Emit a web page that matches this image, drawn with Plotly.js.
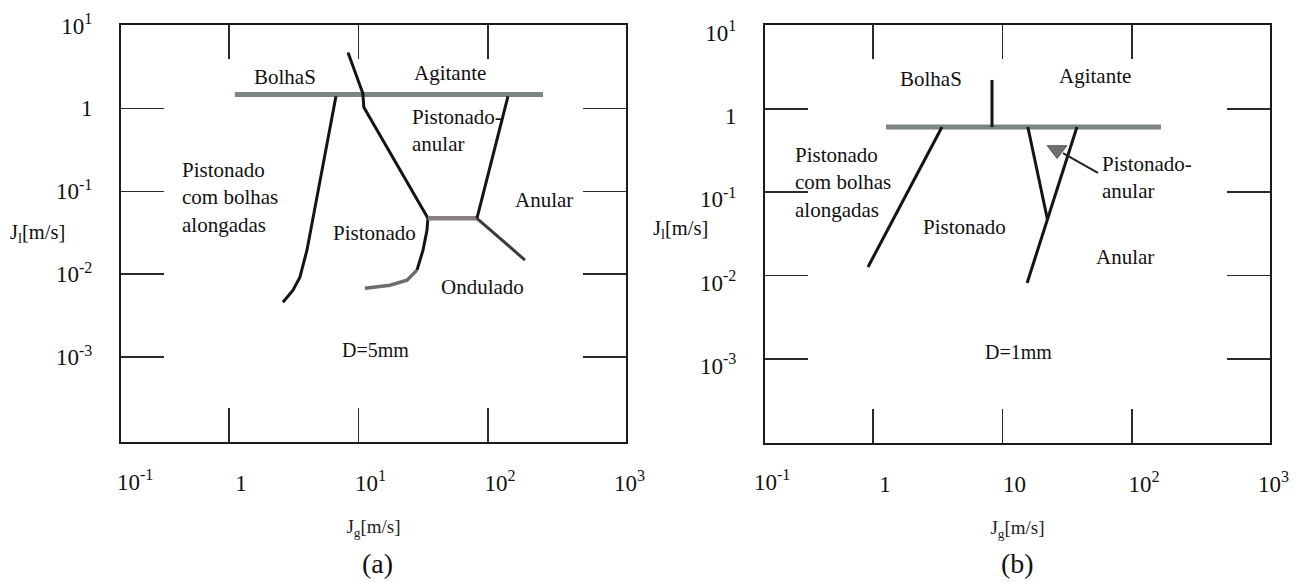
<!DOCTYPE html>
<html>
<head>
<meta charset="utf-8">
<script src="https://cdn.plot.ly/plotly-3.0.1.min.js"></script>
<style>
  html, body { margin: 0; padding: 0; background: #ffffff; }
  #chart { width: 1310px; height: 582px; }
</style>
</head>
<body>
<div id="chart"></div>
<script>
// Two-phase flow pattern maps: gas superficial velocity J_g vs liquid J_l

// ---- axis ticks and labels ----
const xTickVals = [0.1, 1, 10, 100, 1000];
const xTickTextA = ['10<sup>-1</sup>', '1', '10<sup>1</sup>', '10<sup>2</sup>', '10<sup>3</sup>'];
const xTickTextB = ['10<sup>-1</sup>', '1', '10', '10<sup>2</sup>', '10<sup>3</sup>'];
const xMarkVals = [1, 10, 100];
const yTickVals = [10, 1, 0.1, 0.01, 0.001];
const yTickText = ['10<sup>1</sup>', '1', '10<sup>-1</sup>', '10<sup>-2</sup>', '10<sup>-3</sup>'];

// ---- (a) D = 5 mm : transition boundaries ----
const aBubbleTopX = [1.11, 266];
const aBubbleTopY = [1.47, 1.47];
const aSlugBubblyX = [6.7, 4.87, 4.37, 4.00, 3.53, 3.12, 2.61];
const aSlugBubblyY = [1.40, 0.103, 0.0448, 0.0195, 0.0092, 0.0064, 0.0046];
const aSlugChurnX = [8.3, 10.8, 11.0, 34.4];
const aSlugChurnY = [4.73, 1.52, 1.03, 0.0473];
const aWavyUpperX = [34.4, 33.8, 31.5, 28.3];
const aWavyUpperY = [0.0473, 0.0339, 0.0195, 0.0112];
const aWavyLowerX = [28.3, 23.7, 17.5, 11.2];
const aWavyLowerY = [0.0112, 0.00847, 0.00737, 0.00678];
const aMidX = [34.4, 82.2];
const aMidY = [0.0473, 0.0473];
const aAnnularX = [142.7, 82.2];
const aAnnularY = [1.40, 0.0473];
const aWavyAnnularX = [82.2, 193];
const aWavyAnnularY = [0.0473, 0.0148];

// ---- (b) D = 1 mm : transition boundaries ----
const bBubbleTopX = [1.26, 167.5];
const bBubbleTopY = [0.608, 0.608];
const bStemX = [8.3, 8.3];
const bStemY = [2.23, 0.608];
const bSlugBubblyX = [3.41, 0.915];
const bSlugBubblyY = [0.608, 0.01268];
const bInnerX = [15.7, 22.3];
const bInnerY = [0.608, 0.0465];
const bOuterX = [37.6, 15.5];
const bOuterY = [0.608, 0.00815];
const bPointerX = [29.3, 54.6];
const bPointerY = [0.296, 0.1705];
const bMarkX = [26.4];
const bMarkY = [0.322];

const serif = 'Liberation Serif, Times New Roman, Times, serif';
const ink = '#141414';
const barGrey = '#7c8484';

function seg(x, y, xa, ya, color, width) {
  return { x: x, y: y, xaxis: xa, yaxis: ya, type: 'scatter', mode: 'lines',
           line: { color: color, width: width }, hoverinfo: 'skip', showlegend: false };
}

const traces = [
  seg(aBubbleTopX, aBubbleTopY, 'x', 'y', barGrey, 5),
  seg(aSlugBubblyX, aSlugBubblyY, 'x', 'y', ink, 3),
  seg(aSlugChurnX, aSlugChurnY, 'x', 'y', ink, 3),
  seg(aWavyUpperX, aWavyUpperY, 'x', 'y', ink, 3),
  seg(aWavyLowerX, aWavyLowerY, 'x', 'y', '#6f6a6c', 3.5),
  seg(aMidX, aMidY, 'x', 'y', '#8a7e80', 4.5),
  seg(aAnnularX, aAnnularY, 'x', 'y', ink, 3),
  seg(aWavyAnnularX, aWavyAnnularY, 'x', 'y', '#3c3c3c', 3),

  seg(bBubbleTopX, bBubbleTopY, 'x2', 'y2', barGrey, 5),
  seg(bStemX, bStemY, 'x2', 'y2', ink, 3),
  seg(bSlugBubblyX, bSlugBubblyY, 'x2', 'y2', ink, 3),
  seg(bInnerX, bInnerY, 'x2', 'y2', ink, 3),
  seg(bOuterX, bOuterY, 'x2', 'y2', ink, 3),
  seg(bPointerX, bPointerY, 'x2', 'y2', '#222222', 2),
  { x: bMarkX, y: bMarkY, xaxis: 'x2', yaxis: 'y2', type: 'scatter', mode: 'markers',
    marker: { symbol: 'triangle-down', size: 17, color: '#6e7070', line: { color: '#555', width: 1 } },
    hoverinfo: 'skip', showlegend: false }
];

function xAxis(domain, ticktext, anchor) {
  return {
    type: 'log', domain: domain, anchor: anchor, range: [-0.834, 3.066],
    tickmode: 'array', tickvals: xTickVals, ticktext: ticktext,
    ticks: '', showgrid: false, zeroline: false,
    showline: true, linecolor: '#1a1a1a', linewidth: 2, mirror: 'ticks',
    minor: { tickmode: 'array', tickvals: xMarkVals, ticks: 'inside', ticklen: 34,
             tickwidth: 1.6, tickcolor: '#2a2a2a', showgrid: false },
    tickfont: { family: serif, size: 23, color: '#111' },
    ticklabelshift: 12, ticklabelstandoff: 19,
    title: { text: 'J<sub>g</sub>[m/s]', font: { family: serif, size: 19, color: '#222' }, standoff: 25 },
    fixedrange: true
  };
}

function yAxis(domain, range, anchor, shift) {
  return {
    type: 'log', domain: domain, anchor: anchor, range: range,
    tickmode: 'array', tickvals: yTickVals, ticktext: yTickText,
    ticks: 'inside', ticklen: 43, tickwidth: 1.6, tickcolor: '#2a2a2a',
    showgrid: false, zeroline: false,
    showline: true, linecolor: '#1a1a1a', linewidth: 2, mirror: 'ticks',
    tickfont: { family: serif, size: 23, color: '#111' },
    ticklabelstandoff: 22, ticklabelshift: shift,
    fixedrange: true
  };
}

function label(text, x, y, xa, ya, opts) {
  return Object.assign({ text: text, x: x, y: y, xref: xa, yref: ya, showarrow: false,
    xanchor: 'center', yanchor: 'middle',
    font: { family: serif, size: 21, color: '#111' } }, opts || {});
}

const W = 1310, H = 582;
function paper(text, px, py, size) {
  return { text: text, x: px / W, y: 1 - py / H, xref: 'paper', yref: 'paper', showarrow: false,
           xanchor: 'center', yanchor: 'middle',
           font: { family: serif, size: size, color: '#111' } };
}

const small = { family: serif, size: 20, color: '#111' };

const annotations = [
  // (a)
  label('BolhaS', 0.432, 0.373, 'x', 'y'),
  label('Agitante', 1.707, 0.422, 'x', 'y'),
  label('Pistonado-<br>anular', 1.398, -0.271, 'x', 'y', { xanchor: 'left', align: 'left' }),
  label('Pistonado<br>com bolhas<br>alongadas', -0.378, -1.078, 'x', 'y', { xanchor: 'left', align: 'left' }),
  label('Pistonado', 1.120, -1.506, 'x', 'y'),
  label('Anular', 2.432, -1.108, 'x', 'y'),
  label('Ondulado', 1.961, -2.157, 'x', 'y'),
  label('D=5mm', 1.135, -2.916, 'x', 'y', { font: small }),
  // (b)
  label('BolhaS', 0.448, 0.360, 'x2', 'y2'),
  label('Agitante', 1.714, 0.396, 'x2', 'y2'),
  label('Pistonado<br>com bolhas<br>alongadas', -0.618, -0.882, 'x2', 'y2', { xanchor: 'left', align: 'left' }),
  label('Pistonado', 0.703, -1.417, 'x2', 'y2'),
  label('Pistonado-<br>anular', 1.753, -0.822, 'x2', 'y2', { xanchor: 'left', align: 'left' }),
  label('Anular', 1.946, -1.777, 'x2', 'y2'),
  label('D=1mm', 1.127, -2.917, 'x2', 'y2', { font: small }),
  // axis texts outside the plot areas
  paper(xTickTextA[0], 135, 481, 23),
  paper(xTickTextB[0], 772, 481, 23),
  paper('J<sub>l</sub>[m/s]', 37, 233, 20.5),
  paper('J<sub>l</sub>[m/s]', 680, 230, 20.5),
  paper('(a)', 377, 563, 28),
  paper('(b)', 1017, 563, 28)
];

const layout = {
  width: W, height: H,
  margin: { l: 0, r: 0, t: 0, b: 0 },
  paper_bgcolor: '#ffffff', plot_bgcolor: '#ffffff',
  showlegend: false,
  xaxis: xAxis([121 / W, 626 / W], xTickTextA, 'y'),
  yaxis: yAxis([1 - 442 / H, 1 - 24.5 / H], [-4.024, 1.012], 'x', 0),
  xaxis2: xAxis([765 / W, 1270 / W], xTickTextB, 'y2'),
  yaxis2: yAxis([1 - 443 / H, 1 - 25 / H], [-4.010, 1.008], 'x2', 7),
  annotations: annotations
};

Plotly.newPlot('chart', traces, layout, { staticPlot: true, displayModeBar: false });
</script>
</body>
</html>
